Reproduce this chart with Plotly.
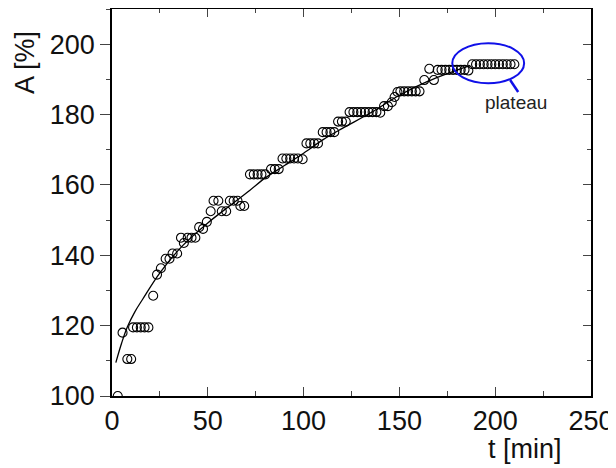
import plotly.graph_objects as go

# measured data (t in min, A in %)
t_data = [3, 5.5, 8, 10, 11, 13, 15, 17, 19, 21.5, 23.5, 25.5, 28, 30, 31.6, 34,
          36, 37.5, 39.5, 41.5, 43.5, 45.5, 47.5, 49.5, 51.5, 53, 55.5, 57.3, 59.6,
          61.5, 63.5, 65.5, 67, 69, 72, 74, 76, 78, 80, 83, 85, 87,
          89, 91, 93, 95, 97, 99.5, 101.5, 103.5, 105.5, 107.5, 110, 112, 114, 116,
          118, 120, 122, 124, 126, 128, 130, 132, 134, 136, 138, 140,
          142, 144, 146, 147.5, 149, 150.5, 152.5, 154.5, 156.5, 158.5, 160.5,
          163, 165.6, 168, 170, 172, 174, 176, 178, 180, 182, 184, 186,
          188, 190, 192, 194, 196, 198, 200, 202, 204, 206, 208, 210]
A_data = [100, 118, 110.5, 110.5, 119.5, 119.5, 119.5, 119.5, 119.5, 128.5, 134.5, 136.3, 139, 139, 140.5, 140.5,
          145, 143.5, 145, 145, 145, 148, 147.5, 149.5, 152.5, 155.5, 155.5, 152.5, 152.5,
          155.5, 155.5, 155.5, 154, 154, 163, 163, 163, 163, 163, 164.5, 164.5, 164.5,
          167.5, 167.5, 167.5, 167.5, 167.5, 167.3, 171.8, 171.8, 171.8, 171.8, 175, 175, 175, 175,
          178, 178, 178, 180.7, 180.7, 180.7, 180.7, 180.7, 180.7, 180.7, 180.7, 180.5,
          182.4, 182.4, 183.5, 185, 186.4, 186.6, 186.6, 186.6, 186.6, 186.6, 186.6,
          189.8, 193, 189.8, 192.7, 192.7, 192.7, 192.7, 192.7, 192.7, 192.7, 192.7, 192.5,
          194.3, 194.3, 194.3, 194.3, 194.3, 194.3, 194.3, 194.3, 194.3, 194.3, 194.3, 194.3]

# fitted curve, points
t_fit = [2, 5, 8, 12, 16, 25, 37, 50, 62, 72, 80, 90, 100, 110, 120, 135, 150, 165, 187]
A_fit = [109.5, 115, 119.6, 124, 127.5, 135, 142.8, 149.2, 154.3, 158.5, 162, 165.5,
         169, 172.8, 176, 180.5, 185.5, 189.5, 194]

x_ticks = [0, 50, 100, 150, 200, 250]
y_ticks = [100, 120, 140, 160, 180, 200]

FONT = "Liberation Sans, Arial, sans-serif"

fig = go.Figure()
fig.add_trace(go.Scatter(x=t_fit, y=A_fit, mode="lines", line=dict(color="black", width=1.3, shape="spline"),
                         showlegend=False, hoverinfo="skip"))
fig.add_trace(go.Scatter(x=t_data, y=A_data, mode="markers",
                         marker=dict(symbol="circle-open", size=9, color="black", line=dict(width=1.1)),
                         showlegend=False))
# invisible trace to activate mirror axes
fig.add_trace(go.Scatter(x=[None], y=[None], xaxis="x2", yaxis="y2", showlegend=False))

fig.add_shape(type="circle", xref="x", yref="y", x0=177.6, x1=215.1, y0=188.9, y1=200.3,
              line=dict(color="#1010e8", width=2))
fig.add_shape(type="line", xref="x", yref="y", x0=207.8, y0=189.8, x1=212, y1=186.4,
              line=dict(color="#1010e8", width=2.5))
fig.add_annotation(x=211, y=183.3, xref="x", yref="y", text="plateau", showarrow=False,
                   xanchor="center", yanchor="middle",
                   font=dict(family=FONT, size=19, color="#222"))

fig.update_layout(
    width=608, height=460,
    margin=dict(l=104, r=25, t=1, b=72, autoexpand=False),
    plot_bgcolor="white", paper_bgcolor="white",
    font=dict(family=FONT, size=27, color="#111"),
    xaxis=dict(range=[0, 250], tickvals=x_ticks, ticks="inside", ticklen=9, tickwidth=1.2,
               minor=dict(dtick=25, tick0=0, ticks="inside", ticklen=5, tickwidth=1.2),
               showline=True, linecolor="black", linewidth=1.5, showgrid=False, zeroline=False,
               tickfont=dict(size=27), automargin=False),
    xaxis2=dict(range=[0, 250], overlaying="x", side="top", tickvals=x_ticks, ticks="inside",
                ticklen=8, tickwidth=1.2, showticklabels=False,
                minor=dict(dtick=25, tick0=0, ticks="inside", ticklen=4, tickwidth=1.2),
                showline=True, linecolor="black", linewidth=1.5, showgrid=False, zeroline=False,
                automargin=False),
    yaxis=dict(range=[100, 210], tickvals=y_ticks, ticks="outside", ticklen=10, tickwidth=1.2,
               minor=dict(dtick=10, tick0=100, ticks="outside", ticklen=4, tickwidth=1.2),
               showline=True, linecolor="black", linewidth=1.5, showgrid=False, zeroline=False,
               tickfont=dict(size=27), automargin=False),
    yaxis2=dict(range=[100, 210], overlaying="y", side="right", tickvals=y_ticks, ticks="inside",
                ticklen=8, tickwidth=1.2, showticklabels=False,
                minor=dict(dtick=10, tick0=100, ticks="inside", ticklen=4, tickwidth=1.2),
                showline=True, linecolor="black", linewidth=1.5, showgrid=False, zeroline=False,
                automargin=False),
)
fig.add_annotation(text="t [min]", xref="paper", yref="paper", x=(525 - 112) / 479, y=-(449 - 396) / 387,
                   xanchor="center", yanchor="middle",
                   showarrow=False, font=dict(family=FONT, size=27, color="#111"))
fig.add_annotation(text="A [%]", xref="paper", yref="paper", x=-(112 - 25) / 479, y=(396 - 63) / 387,
                   xanchor="center", yanchor="middle",
                   textangle=-90, showarrow=False, font=dict(family=FONT, size=27, color="#111"))

fig.write_html("out.html")
